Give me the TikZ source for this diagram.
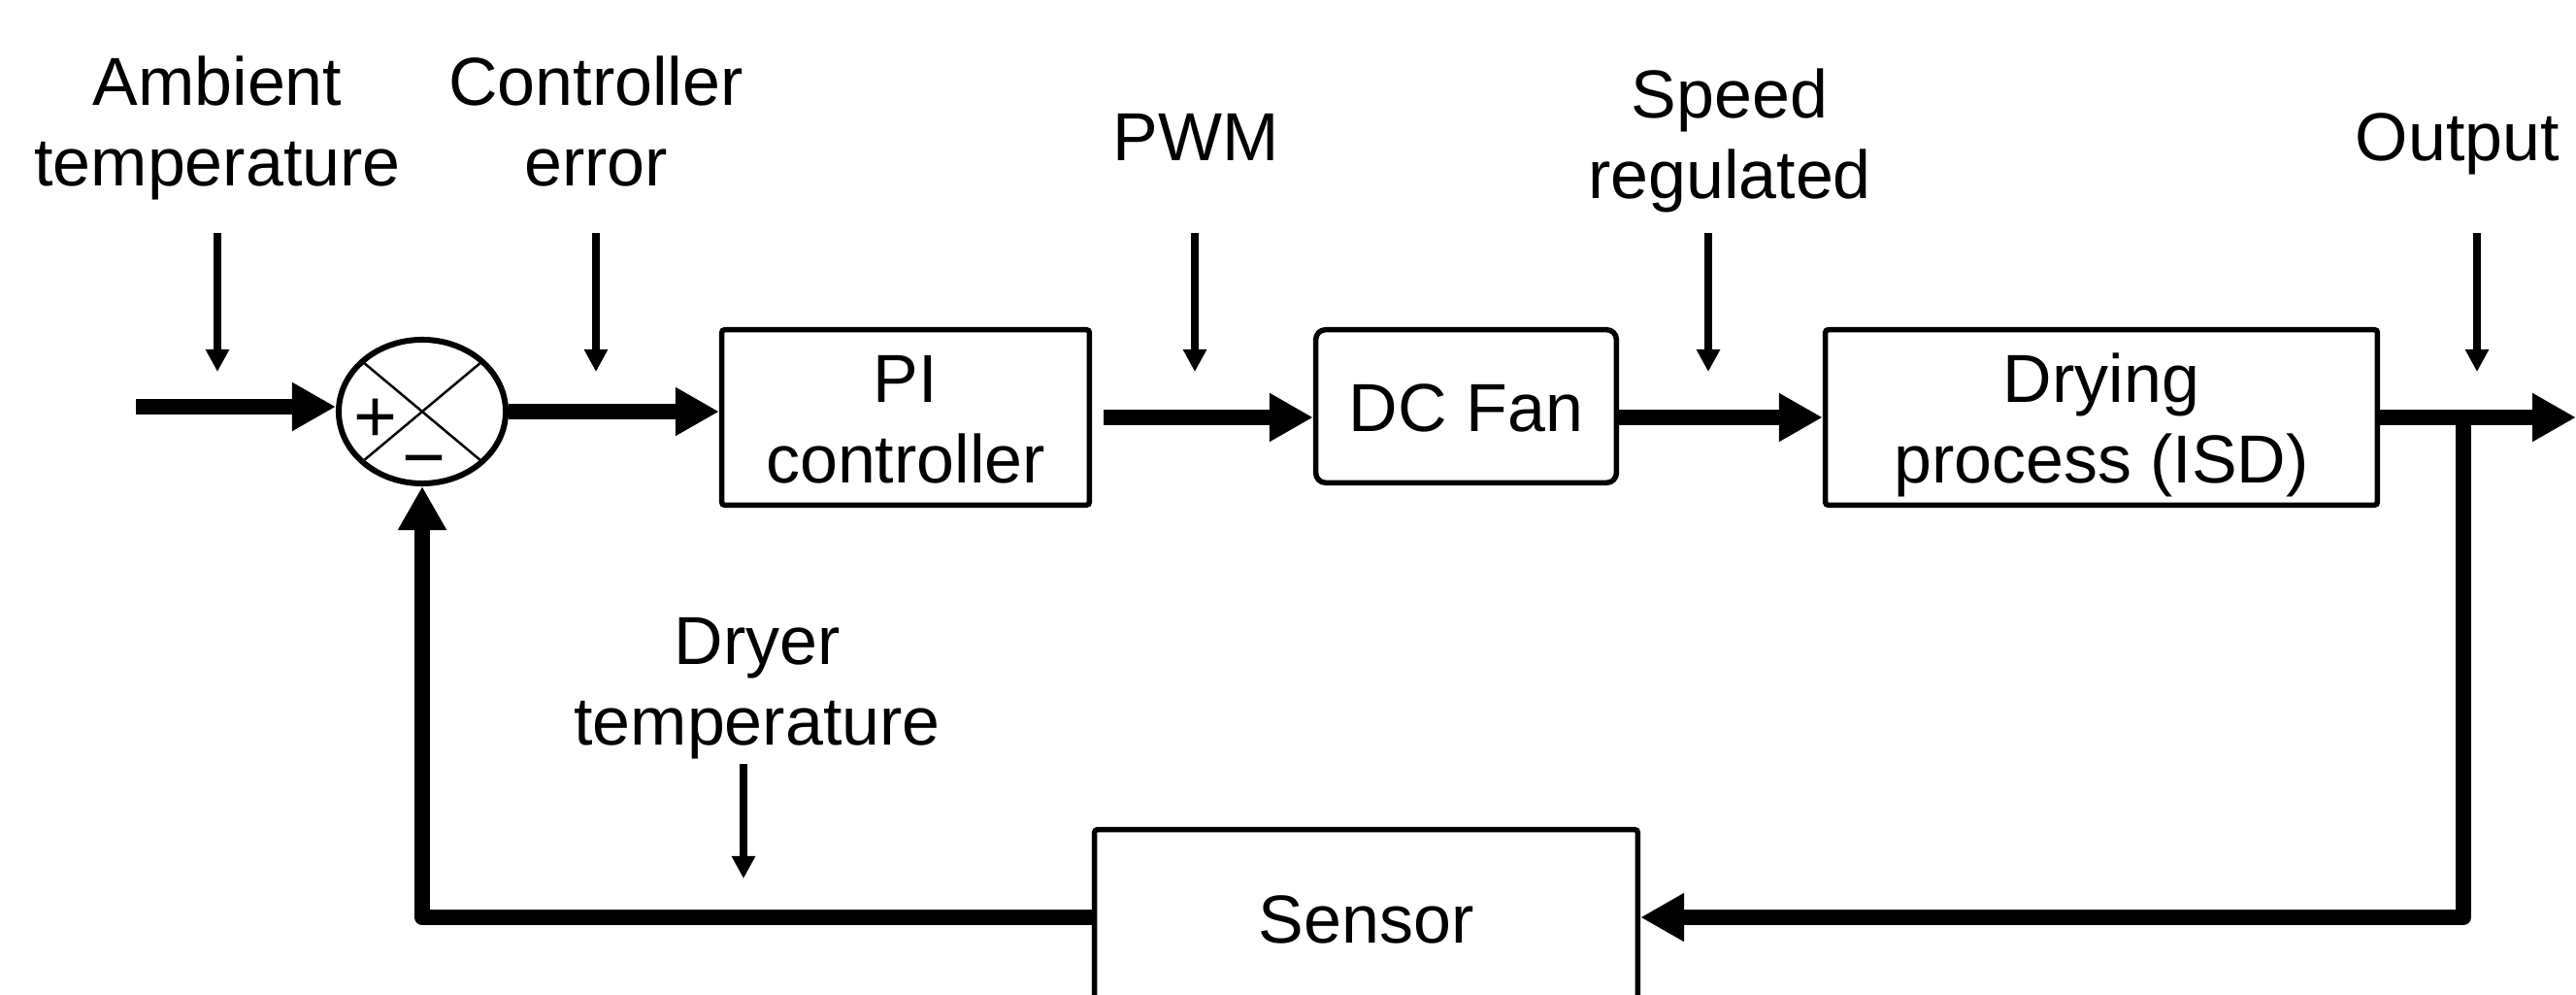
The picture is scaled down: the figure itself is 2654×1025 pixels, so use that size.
\documentclass[tikz,border=0pt]{standalone}
\usepackage{fontspec}
\setmainfont{Liberation Sans}
\usetikzlibrary{arrows.meta,shapes.geometric,calc}
\newcommand\lblfont{\fontsize{19.9pt}{23.35pt}\selectfont}
\newcommand\signfont{\fontsize{21.9pt}{26pt}\selectfont}
\newcommand\mytop{\rule{0pt}{0.67cm}}
\newcommand\mybot{\rule[-0.15cm]{0pt}{0.15cm}}
\tikzset{
  thickarr/.style={line width=0.16cm, line join=round, -{Triangle[length=0.45cm,width=0.47cm]}},
  thinarr/.style={line width=0.085cm, -{Triangle[length=0.23cm,width=0.23cm]}},
  blk/.style={draw, line width=0.055cm, rounded corners=0.03cm, inner sep=0, align=center, font=\lblfont},
  lbl/.style={inner sep=0, align=center, font=\lblfont},
  sign/.style={inner sep=0, font=\signfont}
}
\begin{document}
\begin{tikzpicture}[x=0.01cm,y=-0.01cm]
\clip (0,0) rectangle (2654,1025);
\fill[white] (0,0) rectangle (2654,1025);

% summing junction
\node[draw, ellipse, line width=0.06cm, minimum width=1.72cm, minimum height=1.48cm, inner sep=0] (sum) at (435,424) {};
\draw[line width=0.025cm] ($(sum.center)+(-61,-51)$) -- ($(sum.center)+(61,51)$);
\draw[line width=0.025cm] ($(sum.center)+(61,-51)$) -- ($(sum.center)+(-61,51)$);
\node[sign] (plus) at (387,433) {+};
\node[sign] (minus) at (437,483) {−};

% blocks
\node[blk, minimum width=3.785cm, minimum height=1.805cm] (pi) at (933,430) {\mytop PI\\controller\mybot};
\node[blk, rounded corners=0.1cm, minimum width=3.095cm, minimum height=1.575cm] (dc) at (1510.5,418.5) {\mytop DC Fan\mybot};
\node[blk, minimum width=5.685cm, minimum height=1.805cm] (dry) at (2165,430) {\mytop Drying\\process (ISD)\mybot};
\node[blk, minimum width=5.595cm, minimum height=1.805cm] (sensor) at (1407.5,945) {\mytop Sensor\mybot};

% labels
\node[lbl] (amb) at (224,124) {\mytop Ambient\\temperature\mybot};
\node[lbl] (err) at (614,124) {\mytop Controller\\error\mybot};
\node[lbl] (pwm) at (1232,139) {\mytop PWM\mybot};
\node[lbl] (spd) at (1782,137) {\mytop Speed\\regulated\mybot};
\node[lbl] (outl) at (2532,139) {\mytop Output\mybot};
\node[lbl] (dryl) at (780,700) {\mytop Dryer\\temperature\mybot};

% coordinates
\coordinate (inp) at (140,419);
\coordinate (br) at (2538,430);
\coordinate (outend) at (2654,430);
\coordinate (a1s) at (224,240);  \coordinate (a1e) at (224,383);
\coordinate (a2s) at (614,240);  \coordinate (a2e) at (614,383);
\coordinate (a3s) at (1231,240); \coordinate (a3e) at (1231,383);
\coordinate (a4s) at (1760,240); \coordinate (a4e) at (1760,383);
\coordinate (a5s) at (2552,240); \coordinate (a5e) at (2552,383);
\coordinate (a6s) at (766,787);  \coordinate (a6e) at (766,905);

% thick signal path
\draw[thickarr] (inp) -- (inp -| sum.west);
\draw[thickarr] (sum.east) -- (sum.east -| pi.west);
\draw[thickarr, shorten <=0.12cm] (pi.east) -- (pi.east -| dc.west);
\draw[thickarr] (dc.east |- dry.west) -- (dry.west);
\draw[thickarr] (dry.east) -- (outend);
\draw[thickarr] (br) |- (sensor.east);
\draw[thickarr] (sensor.west) -| (sum.south);

% thin disturbance/label arrows
\draw[thinarr] (a1s) -- (a1e);
\draw[thinarr] (a2s) -- (a2e);
\draw[thinarr] (a3s) -- (a3e);
\draw[thinarr] (a4s) -- (a4e);
\draw[thinarr] (a5s) -- (a5e);
\draw[thinarr] (a6s) -- (a6e);
\end{tikzpicture}
\end{document}
